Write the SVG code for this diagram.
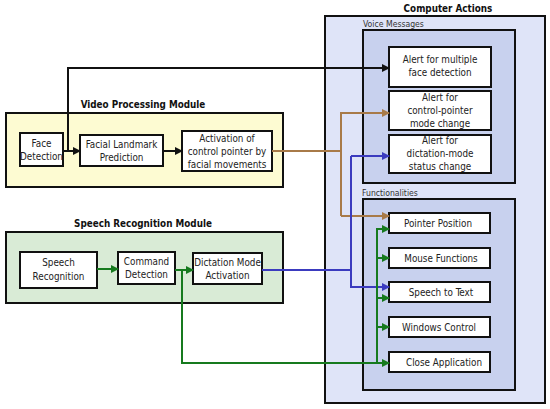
<svg xmlns="http://www.w3.org/2000/svg" width="550" height="409" viewBox="0 0 550 409">
<defs>
<style>
.box{fill:#fff;stroke:#111;stroke-width:2}
.t{font-family:"DejaVu Sans Condensed","DejaVu Sans",sans-serif;font-size:9.8px;fill:#222;text-anchor:middle}
.s{font-family:"DejaVu Sans Condensed","DejaVu Sans",sans-serif;font-size:8.6px;fill:#333}
.h{font-family:"DejaVu Sans Condensed","DejaVu Sans",sans-serif;font-weight:bold;font-size:9.8px;fill:#111;text-anchor:middle}
.k{fill:none;stroke:#111;stroke-width:2}
.br{fill:none;stroke:#a87a48;stroke-width:2}
.bl{fill:none;stroke:#3b3bbf;stroke-width:2}
.gr{fill:none;stroke:#167a1e;stroke-width:2}
</style>
<marker id="ak" markerWidth="8" markerHeight="8" refX="7" refY="4" orient="auto" markerUnits="userSpaceOnUse"><path d="M0,0 L8,4 L0,8 z" fill="#111"/></marker>
<marker id="abr" markerWidth="8" markerHeight="8" refX="7" refY="4" orient="auto" markerUnits="userSpaceOnUse"><path d="M0,0 L8,4 L0,8 z" fill="#a87a48"/></marker>
<marker id="abl" markerWidth="8" markerHeight="8" refX="7" refY="4" orient="auto" markerUnits="userSpaceOnUse"><path d="M0,0 L8,4 L0,8 z" fill="#3b3bbf"/></marker>
<marker id="agr" markerWidth="8" markerHeight="8" refX="7" refY="4" orient="auto" markerUnits="userSpaceOnUse"><path d="M0,0 L8,4 L0,8 z" fill="#167a1e"/></marker>
</defs>
<rect width="550" height="409" fill="#fff"/>

<g id="computer-actions">
<text class="h" x="448" y="12">Computer Actions</text>
<rect x="325" y="16" width="220" height="387" fill="#dfe4f8" stroke="#111" stroke-width="2"/>
</g>
<g id="voice-messages">
<text class="s" x="363" y="27">Voice Messages</text>
<rect x="363" y="30" width="152" height="153" fill="#c8d1ee" stroke="#111" stroke-width="2"/>
</g>
<g id="functionalities">
<text class="s" x="362" y="196">Functionalities</text>
<rect x="363" y="199" width="152" height="191" fill="#c8d1ee" stroke="#111" stroke-width="2"/>
</g>

<g id="video-module">
<text class="h" x="143" y="108">Video Processing Module</text>
<rect x="6" y="113" width="277" height="74" fill="#fdfbd2" stroke="#111" stroke-width="2"/>
</g>
<g id="speech-module">
<text class="h" x="143" y="227">Speech Recognition Module</text>
<rect x="6" y="232" width="277" height="71" fill="#d9ebd6" stroke="#111" stroke-width="2"/>
</g>

<g id="face-detection"><rect class="box" x="20" y="133" width="43" height="33"/><text class="t" x="41.5" y="147">Face</text><text class="t" x="41.5" y="160">Detection</text></g>
<g id="facial-landmark"><rect class="box" x="80" y="135" width="83" height="31"/><text class="t" x="121.5" y="148">Facial Landmark</text><text class="t" x="121.5" y="161">Prediction</text></g>
<g id="activation"><rect class="box" x="182" y="131" width="90" height="40"/><text class="t" x="227" y="142">Activation of</text><text class="t" x="227" y="155">control pointer by</text><text class="t" x="227" y="168">facial movements</text></g>

<g id="speech-recognition"><rect class="box" x="20" y="252" width="77" height="36"/><text class="t" x="58.5" y="266">Speech</text><text class="t" x="58.5" y="280">Recognition</text></g>
<g id="command-detection"><rect class="box" x="118" y="252" width="57" height="32"/><text class="t" x="146.5" y="265">Command</text><text class="t" x="146.5" y="278">Detection</text></g>
<g id="dictation-mode"><rect class="box" x="193" y="253" width="69" height="31"/><text class="t" x="227.5" y="266">Dictation Mode</text><text class="t" x="227.5" y="279">Activation</text></g>

<g id="alert-multiple"><rect class="box" x="389" y="47" width="102" height="40"/><text class="t" x="440" y="63">Alert for multiple</text><text class="t" x="440" y="76">face detection</text></g>
<g id="alert-pointer"><rect class="box" x="389" y="91" width="102" height="39"/><text class="t" x="440" y="101">Alert for</text><text class="t" x="440" y="114">control-pointer</text><text class="t" x="440" y="127">mode change</text></g>
<g id="alert-dictation"><rect class="box" x="389" y="135" width="102" height="38"/><text class="t" x="440" y="144">Alert for</text><text class="t" x="440" y="157">dictation-mode</text><text class="t" x="440" y="170">status change</text></g>

<g id="pointer-position"><rect class="box" x="389" y="213" width="101" height="20"/><text class="t" x="438" y="227">Pointer Position</text></g>
<g id="mouse-functions"><rect class="box" x="389" y="248" width="101" height="20"/><text class="t" x="441" y="262">Mouse Functions</text></g>
<g id="speech-to-text"><rect class="box" x="389" y="282" width="101" height="20"/><text class="t" x="441" y="296">Speech to Text</text></g>
<g id="windows-control"><rect class="box" x="389" y="317" width="101" height="20"/><text class="t" x="439" y="331">Windows Control</text></g>
<g id="close-application"><rect class="box" x="389" y="352" width="101" height="20"/><text class="t" x="444" y="366">Close Application</text></g>

<g id="connectors">
<path class="k" d="M63,151 H80" marker-end="url(#ak)"/>
<path class="k" d="M163,151 H182" marker-end="url(#ak)"/>
<path class="k" d="M68,151 V68 H389" marker-end="url(#ak)"/>
<path class="br" d="M272,151 H341"/>
<path class="br" d="M341,216 V113 H389" marker-end="url(#abr)"/>
<path class="br" d="M341,216 H389" marker-end="url(#abr)"/>
<path class="gr" d="M97,269 H118" marker-end="url(#agr)"/>
<path class="gr" d="M175,270 H193" marker-end="url(#agr)"/>
<path class="gr" d="M182,270 V363 H389" marker-end="url(#agr)"/>
<path class="bl" d="M262,270 H351"/>
<path class="bl" d="M351,156 V287 H389" marker-end="url(#abl)"/>
<path class="bl" d="M351,156 H389" marker-end="url(#abl)"/>
<path class="gr" d="M377,363 V229 H389" marker-end="url(#agr)"/>
<path class="gr" d="M377,258 H389" marker-end="url(#agr)"/>
<path class="gr" d="M377,298 H389" marker-end="url(#agr)"/>
<path class="gr" d="M377,327 H389" marker-end="url(#agr)"/>
</g>
</svg>
